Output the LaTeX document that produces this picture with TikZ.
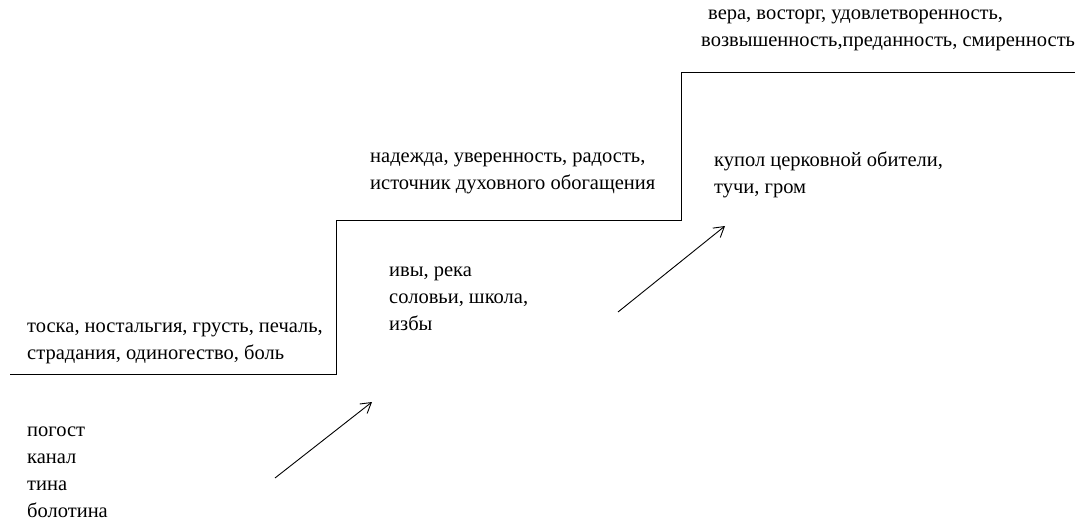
\documentclass[tikz,border=0pt]{standalone}
\usepackage{fontspec}
\setmainfont{Liberation Serif}
\usetikzlibrary{arrows.meta}

\begin{document}
\begin{tikzpicture}[x=1pt, y=-1pt,
    words/.style={anchor=west, align=left, inner sep=0pt, font=\fontsize{20.5}{27}\selectfont},
    lift/.style={-{Straight Barb[length=10pt,width=12pt]}, line width=0.9pt}]
    \useasboundingbox (0, 0) rectangle (1075, 521);
    \draw [line width=1pt] (10, 374) -- (336, 374) -- (336, 221) -- (681, 221) -- (681, 73) -- (1075, 73);

    \node [words] (bottomfeel) at (27, 343.5) {тоска, ностальгия, грусть, печаль,\\страдания, одиногество, боль};
    \node [words] (bottomplace) at (27, 472) {погост\\канал\\тина\\болотина};
    \node [words] (middlefeel) at (370, 173.5) {надежда, уверенность, радость,\\источник духовного обогащения};
    \node [words] (middleplace) at (389, 298.5) {ивы, река\\соловьи, школа,\\избы};
    \node [words] (topfeel) at (708, 30.5) {вера, восторг, удовлетворенность,\\\hspace*{-7pt}возвышенность,преданность, смиренность};
    \node [words] (topplace) at (714, 174.5) {купол церковной обители,\\тучи, гром};

    \coordinate (lowstart) at (275, 478);
    \coordinate (lowend) at (372, 402);
    \coordinate (highstart) at (618, 312);
    \coordinate (highend) at (725, 226);
    \draw [lift] (lowstart) -- (lowend);
    \draw [lift] (highstart) -- (highend);

\end{tikzpicture}
\end{document}
